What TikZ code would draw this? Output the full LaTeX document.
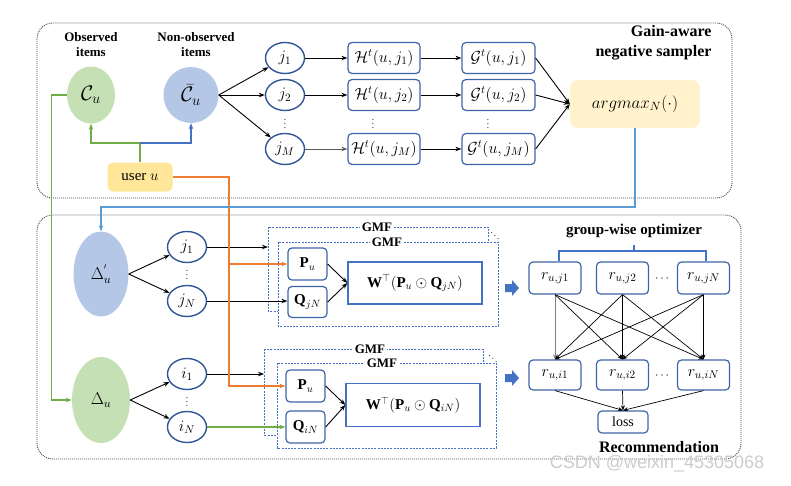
\RequirePackage{fix-cm}
\documentclass[tikz,border=0pt]{standalone}
\usepackage{fontspec}
\setmainfont{Liberation Serif}
\newfontfamily\wmfont{Liberation Sans}
\usetikzlibrary{arrows.meta,shapes.geometric}
\newcommand{\myfs}[2]{\fontsize{#1}{#2}\selectfont}
\definecolor{gfill}{HTML}{C5E0B4}
\definecolor{gline}{HTML}{70AD47}
\definecolor{bfill}{HTML}{B4C7E7}
\definecolor{bline}{HTML}{4472C4}
\definecolor{lblue}{HTML}{5B9BD5}
\definecolor{dblue}{HTML}{2F5597}
\definecolor{boxb}{HTML}{3E64A8}
\definecolor{orng}{HTML}{ED7D31}
\definecolor{yel}{HTML}{FFE699}
\definecolor{lyel}{HTML}{FFF2CC}
\tikzset{
  ell/.style={ellipse, draw=dblue, line width=1.4pt, minimum width=39pt, minimum height=31pt, inner sep=0pt, font=\myfs{16}{16}},
  blob/.style={ellipse, draw=none, inner sep=0pt},
  rbox/.style={rectangle, rounded corners=4pt, draw=boxb, line width=1.2pt, inner sep=0pt, font=\myfs{16}{16}},
  arr/.style={-{Stealth[length=6pt,width=4.5pt]}, line width=0.9pt},
  thinarr/.style={-{Stealth[length=5pt,width=4pt]}, line width=0.7pt},
  colline/.style={line width=1.3pt},
  outerbox/.style={draw=gray!60!black, line width=0.9pt, dash pattern=on 1pt off 1pt, rounded corners=16pt},
  gmf/.style={draw=bline, line width=1pt, dash pattern=on 2pt off 1.2pt, fill=white},
  gmflab/.style={fill=white, inner sep=2pt, font=\bfseries\myfs{13}{13}},
  head/.style={font=\bfseries\myfs{13}{15}, align=center},
  vdot/.style={font=\myfs{9}{9}, inner sep=0pt},
}
\begin{document}
\begin{tikzpicture}[x=1pt,y=-1pt]
\useasboundingbox (0,0) rectangle (791,485);
% outer frames
\draw[outerbox] (37,23) rectangle (732,198);
\draw[outerbox] (37,215) rectangle (741,459);

% ---------- top part ----------
\node[head] (lobs) at (91,45) {Observed\\items};
\node[head] (lnobs) at (196,45) {Non-observed\\items};
\node[blob, fill=gfill, minimum width=48pt, minimum height=57pt, font=\myfs{21}{21}] (cu) at (91,95) {$\mathcal{C}_u$};
\node[blob, fill=bfill, minimum width=55pt, minimum height=56pt, font=\myfs{21}{21}] (cbar) at (191,95) {$\bar{\mathcal{C}}_u$};
\node[rectangle, rounded corners=5pt, fill=yel, minimum width=65pt, minimum height=29pt, font=\myfs{15}{15}] (user) at (140,177) {user $u$};

\node[ell] (j1) at (285,58) {$j_1$};
\node[ell] (j2) at (285,95) {$j_2$};
\node[ell] (jM) at (285,149) {$j_M$};
\node[vdot] (jd) at (285,121) {$\vdots$};

\node[rbox, minimum width=72pt, minimum height=31pt] (H1) at (384,58) {$\mathcal{H}^t(u,j_1)$};
\node[rbox, minimum width=72pt, minimum height=31pt] (H2) at (384,95) {$\mathcal{H}^t(u,j_2)$};
\node[rbox, minimum width=72pt, minimum height=31pt] (HM) at (384,149) {$\mathcal{H}^t(u,j_M)$};
\node[vdot] (Hd) at (373,121) {$\vdots$};

\node[rbox, minimum width=73pt, minimum height=31pt] (G1) at (498.5,58) {$\mathcal{G}^t(u,j_1)$};
\node[rbox, minimum width=73pt, minimum height=31pt] (G2) at (498.5,95) {$\mathcal{G}^t(u,j_2)$};
\node[rbox, minimum width=73pt, minimum height=31pt] (GM) at (498.5,149) {$\mathcal{G}^t(u,j_M)$};
\node[vdot] (Gd) at (488,121) {$\vdots$};

\node[rectangle, rounded corners=8pt, fill=lyel, minimum width=130pt, minimum height=48pt, font=\myfs{17}{17}] (amax) at (635,104) {$argmax_N(\cdot)$};
\node[font=\bfseries\myfs{16}{20}, align=right, anchor=east] (lgain) at (715,43) {Gain-aware\\negative sampler};

\draw[arr] (cbar.east) -- (j1);
\draw[arr] (cbar.east) -- (j2);
\draw[arr] (cbar.east) -- (jM);
\draw[arr] (j1) -- (H1);
\draw[arr] (j2) -- (H2);
\draw[arr, draw=gray!70!black] (jM) -- (HM);
\draw[arr] (H1) -- (G1);
\draw[arr] (H2) -- (G2);
\draw[arr] (HM) -- (GM);
\draw[arr] (G1.east) -- (amax.west);
\draw[arr] (G2.east) -- (amax.west);
\draw[arr] (GM.east) -- (amax.west);

\coordinate (uj) at (140,143);
\draw[arr, colline, draw=gline] (user.north) -- (uj) -| (cu.south);
\draw[arr, colline, draw=bline] (uj) -| (cbar.south);

% ---------- bottom part ----------
\node[blob, fill=bfill, minimum width=55pt, minimum height=85pt, font=\myfs{17}{17}] (dp) at (101,274) {$\Delta^{'}_u$};
\node[blob, fill=gfill, minimum width=58pt, minimum height=86pt, font=\myfs{17}{17}] (du) at (101,400) {$\Delta_u$};

\node[ell] (jb1) at (187,247) {$j_1$};
\node[ell] (jbN) at (187,301) {$j_N$};
\node[vdot] (jbd) at (187,272) {$\vdots$};
\node[ell] (i1) at (187,374) {$i_1$};
\node[ell] (iN) at (187,427) {$i_N$};
\node[vdot] (id) at (187,399) {$\vdots$};

\draw[arr] (dp.east) -- (jb1);
\draw[arr] (dp.east) -- (jbN);
\draw[arr] (du.east) -- (i1);
\draw[arr] (du.east) -- (iN);

% GMF top
\draw[gmf] (268,227) rectangle (488,311);
\node[gmflab] (gmfa) at (377,227) {GMF};
\draw[gmf] (278,242) rectangle (498,326);
\node[gmflab] (gmfb) at (387,242) {GMF};
\node[vdot] (dda) at (495,233) {$\ddots$};
\node[rbox, minimum width=39pt, minimum height=32pt, font=\myfs{15}{15}] (pu1) at (307.5,264) {$\mathbf{P}_u$};
\node[rbox, minimum width=39pt, minimum height=31pt, font=\myfs{15}{15}] (qj) at (307.5,302) {$\mathbf{Q}_{jN}$};
\node[rectangle, draw=bline, line width=1.3pt, minimum width=134pt, minimum height=42pt, font=\myfs{15}{15}] (w1) at (415,283) {$\mathbf{W}^{\top}\!\left(\mathbf{P}_u\odot\mathbf{Q}_{jN}\right)$};
\coordinate (gin1) at (268,247);
\draw[arr] (jb1) -- (gin1);
\draw[arr] (jbN.east) -- (qj.west |- jbN.east);
\draw[arr] (pu1.east) -- (w1.west);
\draw[arr] (qj.east) -- (w1.west);

% GMF bottom
\draw[gmf] (264,349) rectangle (483,435);
\node[gmflab] (gmfc) at (370,349) {GMF};
\draw[gmf] (277,363) rectangle (496,448);
\node[gmflab] (gmfd) at (382,363) {GMF};
\node[vdot] (ddb) at (493,356) {$\ddots$};
\node[rbox, minimum width=39pt, minimum height=32pt, font=\myfs{15}{15}] (pu2) at (305.5,386) {$\mathbf{P}_u$};
\node[rbox, minimum width=39pt, minimum height=32pt, font=\myfs{15}{15}] (qi) at (305.5,427) {$\mathbf{Q}_{iN}$};
\node[rectangle, draw=bline, line width=1.3pt, minimum width=134pt, minimum height=43pt, font=\myfs{15}{15}] (w2) at (413,405) {$\mathbf{W}^{\top}\!\left(\mathbf{P}_u\odot\mathbf{Q}_{iN}\right)$};
\coordinate (gin2) at (264,374);
\draw[arr] (i1) -- (gin2);
\draw[arr, colline, draw=gline] (iN) -- (qi.west);
\draw[arr] (pu2.east) -- (w2.west);
\draw[arr] (qi.east) -- (w2.west);

% long connectors
\coordinate (o1) at (229,264);
\draw[arr, colline, draw=orng] (user.east) -| (o1) -- (pu1.west);
\draw[arr, colline, draw=orng] (o1) |- (pu2.west);
\draw[arr, colline, draw=gline] (cu.west) -- ++(-15,0) |- (du.west);
\coordinate (bb) at (101,207);
\draw[arr, colline, draw=lblue] (amax.south) |- (bb) -- (dp.north);

% block arrows
\fill[bline] (505,284) -- (512,284) -- (512,280) -- (519,288) -- (512,296) -- (512,292) -- (505,292) -- cycle;
\fill[bline] (505,374) -- (512,374) -- (512,370) -- (519,378) -- (512,386) -- (512,382) -- (505,382) -- cycle;

% optimizer
\node[font=\bfseries\myfs{15}{15}] (lopt) at (634,231) {group-wise optimizer};
\draw[bline, line width=1.1pt] (559,261) -- (559,251) -- (706,251) -- (706,261);
\draw[bline, line width=1.1pt] (634,251) -- (634,245);

\node[rbox, minimum width=52pt, minimum height=32pt] (rj1) at (555,278) {$r_{u,j1}$};
\node[rbox, minimum width=52pt, minimum height=32pt] (rj2) at (622.5,278) {$r_{u,j2}$};
\node[rbox, minimum width=52pt, minimum height=32pt] (rjN) at (703.5,278) {$r_{u,jN}$};
\node[font=\myfs{12}{12}] (rjd) at (662,279) {$\cdots$};
\node[rbox, minimum width=52pt, minimum height=30pt] (ri1) at (555,375) {$r_{u,i1}$};
\node[rbox, minimum width=52pt, minimum height=30pt] (ri2) at (622.5,375) {$r_{u,i2}$};
\node[rbox, minimum width=52pt, minimum height=30pt] (riN) at (703.5,375) {$r_{u,iN}$};
\node[font=\myfs{12}{12}] (rid) at (662,376) {$\cdots$};
\node[rbox, minimum width=50pt, minimum height=22pt, font=\myfs{14}{14}] (loss) at (623,422) {loss};
\node[font=\bfseries\myfs{16}{16}] (lrec) at (659,447) {Recommendation};

\draw[thinarr, draw=gray] (rj1.south) -- (ri1.north);
\draw[thinarr] (rj1.south) -- (ri2.north);
\draw[thinarr] (rj1.south) -- (riN.north);
\draw[thinarr] (rj2.south) -- (ri1.north);
\draw[thinarr] (rj2.south) -- (ri2.north);
\draw[thinarr] (rj2.south) -- (riN.north);
\draw[thinarr] (rjN.south) -- (ri1.north);
\draw[thinarr] (rjN.south) -- (ri2.north);
\draw[thinarr] (rjN.south) -- (riN.north);
\draw[thinarr] (ri1.south) -- (loss.north);
\draw[thinarr] (ri2.south) -- (loss.north);
\draw[thinarr] (riN.south) -- (loss.north);

\node[font=\wmfont\myfs{18}{18}, text=gray!40] (wm) at (657,464) {CSDN @weixin\_45305068};
\end{tikzpicture}
\end{document}
